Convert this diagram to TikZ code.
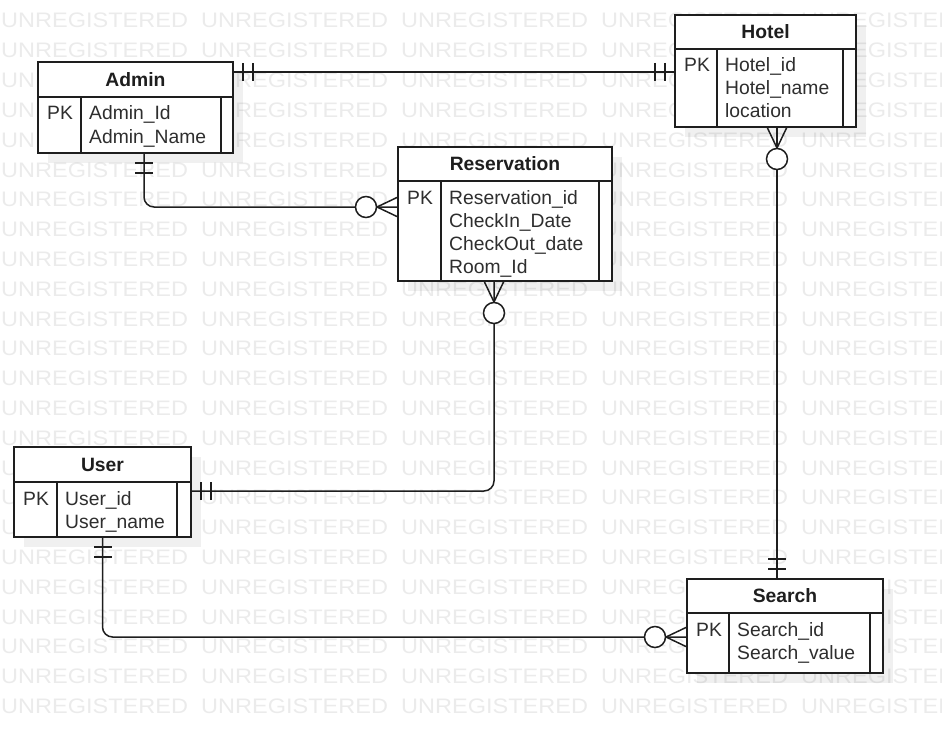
\documentclass[tikz,border=0pt]{standalone}
\usepackage{fontspec}
\setmainfont{Liberation Sans}
\usetikzlibrary{calc}

\definecolor{ink}{HTML}{1E1E1E}
\definecolor{wmgray}{HTML}{EBEBEB}

\tikzset{
  entbox/.style={draw=ink, line width=1.5pt, fill=white, inner sep=0pt, outer sep=0pt, anchor=north west},
  shadowbox/.style={fill=black, fill opacity=0.06, inner sep=0pt, outer sep=0pt, anchor=north west},
  entline/.style={draw=ink, line width=1.5pt},
  conn/.style={draw=ink, line width=1.5pt},
  hdrtxt/.style={font=\fontsize{19.3}{23}\selectfont\bfseries, text=ink, inner sep=0pt},
  rowtxt/.style={font=\fontsize{19.3}{23}\selectfont, text=black!82, inner sep=0pt, anchor=base west},
  wmtxt/.style={font=\fontsize{21}{21}\selectfont, text=wmgray, inner sep=0pt, anchor=base west},
}

% entity table: name, top-left, width, height, header height,
% key column width, right column width, title, rows
\newcommand\entity[9]{%
  \node[shadowbox, minimum width=#3pt, minimum height=#4pt] at ($#2+(10,10)$) {};
  \node[entbox, minimum width=#3pt, minimum height=#4pt] (#1) at #2 {};
  \draw[entline] ($(#1.north west)+(0,#5)$) -- ($(#1.north east)+(0,#5)$);
  \draw[entline] ($(#1.north west)+(#6,#5)$) -- ($(#1.south west)+(#6,0)$);
  \draw[entline] ($(#1.north east)+(-#7,#5)$) -- ($(#1.south east)+(-#7,0)$);
  \node[hdrtxt] at ($(#1.north)+(0,#5/2)$) {#8};
  \node[rowtxt] at ($(#1.north west)+(9,#5+23)$) {PK};
  \foreach \rw [count=\rn from 0] in {#9}
    \node[rowtxt] at ($(#1.north west)+({#6+8},{#5+23+23*\rn})$) {\rw};
}

% "exactly one": two bars across the line, direction (#2,#3) away from the table
\newcommand\markone[3]{%
  \foreach \k in {10,20}
    \draw[conn] ($(#1)+({\k*#2+9*#3},{\k*#3+9*#2})$) -- ($(#1)+({\k*#2-9*#3},{\k*#3-9*#2})$);
}

% "zero or many": crow's foot plus an open circle
\newcommand\markmany[3]{%
  \draw[conn] ($(#1)+({10*#3},{10*#2})$) -- ($(#1)+({21*#2},{21*#3})$) -- ($(#1)+({-10*#3},{-10*#2})$);
  \draw[conn, fill=white] ($(#1)+({32*#2},{32*#3})$) circle[radius=10.5];
}

\begin{document}
\begin{tikzpicture}[x=1pt, y=-1pt]
  \useasboundingbox (0,0) rectangle (942,733);

  % background lettering
  \begin{scope}
    \clip (0,0) rectangle (942,733);
    \foreach \j in {0,...,23}
      \foreach \i in {0,...,4}
        \node[wmtxt] at ({200*\i+1},{28+29.8*\j}) {\scalebox{1.12}[1]{UNREGISTERED}};
  \end{scope}

  % tables
  \entity{admin}{(38,62)}{195}{91}{35}{43}{12}{Admin}{Admin\_Id,Admin\_Name}
  \entity{reservation}{(398,147)}{214}{134}{34}{43}{13}{Reservation}{Reservation\_id,CheckIn\_Date,CheckOut\_date,Room\_Id}
  \entity{hotel}{(675,15)}{181}{112}{34}{42}{13}{Hotel}{Hotel\_id,Hotel\_name,location}
  \entity{user}{(14,447)}{177}{90}{35}{43}{14}{User}{User\_id,User\_name}
  \entity{search}{(687,579)}{196}{94}{34}{42}{13}{Search}{Search\_id,Search\_value}

  % Admin -- Hotel
  \coordinate (ah1) at ($(admin.north east)+(0,10)$);
  \coordinate (ah2) at (hotel.west |- ah1);
  \draw[conn] (ah1) -- (ah2);
  \markone{ah1}{1}{0}
  \markone{ah2}{-1}{0}

  % Admin -- Reservation
  \coordinate (ar1) at ($(admin.south west)+(106,0)$);
  \coordinate (ar2) at ($(reservation.north west)+(0,60)$);
  \draw[conn, rounded corners=10pt] (ar1) |- (ar2);
  \markone{ar1}{0}{1}
  \markmany{ar2}{-1}{0}

  % Reservation -- User
  \coordinate (ru1) at ($(reservation.south west)+(96,0)$);
  \coordinate (ru2) at ($(user.north east)+(0,44)$);
  \draw[conn, rounded corners=10pt] (ru1) |- (ru2);
  \markmany{ru1}{0}{1}
  \markone{ru2}{1}{0}

  % Hotel -- Search
  \coordinate (hs1) at ($(hotel.south west)+(102,0)$);
  \coordinate (hs2) at (search.north -| hs1);
  \draw[conn] (hs1) -- (hs2);
  \markmany{hs1}{0}{1}
  \markone{hs2}{0}{-1}

  % User -- Search
  \coordinate (us1) at (user.south);
  \coordinate (us2) at ($(search.north west)+(0,58)$);
  \draw[conn, rounded corners=10pt] (us1) |- (us2);
  \markone{us1}{0}{1}
  \markmany{us2}{-1}{0}
\end{tikzpicture}
\end{document}
